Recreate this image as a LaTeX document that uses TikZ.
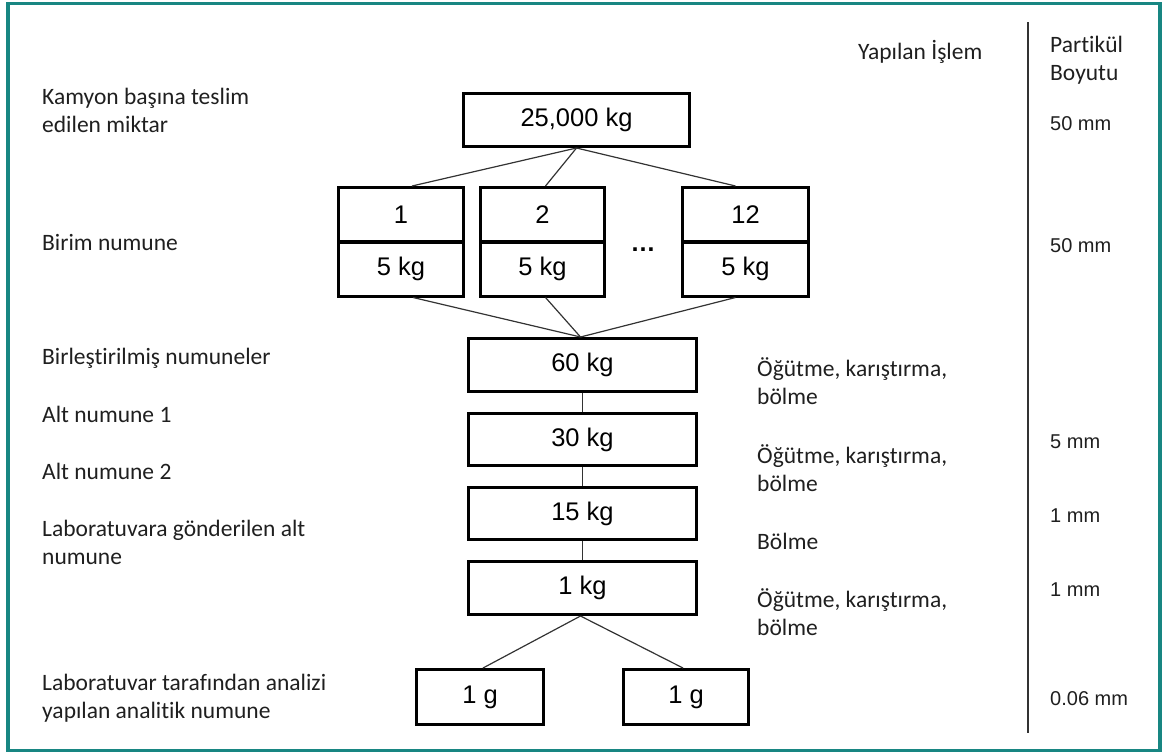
\documentclass[tikz,border=0pt]{standalone}
\usepackage{fontspec}
\setmainfont{Carlito}[Ligatures={NoCommon,NoContextual}]
\newfontfamily\arialf{Liberation Sans}
\usetikzlibrary{calc}
\definecolor{frameteal}{RGB}{24,134,130}
\begin{document}
\begin{tikzpicture}[x=1pt,y=-1pt,
  box/.style={draw=black, line width=3pt, fill=white, inner sep=0pt, text=black,
    font=\arialf\fontsize{25.5}{30}\selectfont},
  lbl/.style={anchor=base west, align=left, inner sep=0pt, text=black!88,
    font=\fontsize{23.5}{27.5}\selectfont},
  mmtxt/.style={anchor=base west, inner sep=0pt, text=black!88,
    font=\arialf\fontsize{20}{24}\selectfont},
  conn/.style={draw=black!80, line width=1.2pt}]
\useasboundingbox (0,0) rectangle (1164,753);
\draw[frameteal, line width=3.5pt] (8,3.5) rectangle (1160,750.5);

% boxes
\node[box, minimum width=226pt, minimum height=53pt] (top) at (576.5,120) {25,000 kg};
\node[box, minimum width=125pt, minimum height=54pt] (b1t) at (401,214.5) {1};
\node[box, minimum width=125pt, minimum height=54pt] (b1b) at (401,269) {5 kg};
\node[box, minimum width=124pt, minimum height=54pt] (b2t) at (542.5,214.5) {2};
\node[box, minimum width=124pt, minimum height=54pt] (b2b) at (542.5,269) {5 kg};
\node[box, minimum width=126pt, minimum height=54pt] (b12t) at (745.5,214.5) {12};
\node[box, minimum width=126pt, minimum height=54pt] (b12b) at (745.5,269) {5 kg};
\node[inner sep=0pt, font=\arialf\bfseries\fontsize{25}{30}\selectfont] (dots) at (643,250) {…};
\node[box, minimum width=228pt, minimum height=53pt] (m60) at (582.5,365) {60 kg};
\node[box, minimum width=228pt, minimum height=52pt] (m30) at (582.5,439.5) {30 kg};
\node[box, minimum width=228pt, minimum height=52pt] (m15) at (582.5,513.5) {15 kg};
\node[box, minimum width=228pt, minimum height=53pt] (m1) at (582.5,588) {1 kg};
\node[box, minimum width=127pt, minimum height=55pt] (g1) at (480,697) {1 g};
\node[box, minimum width=125pt, minimum height=55pt] (g2) at (686,697) {1 g};

% connectors
\draw[conn] (top.south) -- ($(b1t.north)+(11,0)$);
\draw[conn] (top.south) -- ($(b2t.north)+(3,0)$);
\draw[conn] (top.south) -- ($(b12t.north)+(-10,0)$);
\draw[conn] ($(b1b.south)+(12,0)$) -- ($(m60.north)+(-2,0)$);
\draw[conn] ($(b2b.south)+(3,0)$) -- ($(m60.north)+(-2,0)$);
\draw[conn] ($(b12b.south)+(-10,0)$) -- ($(m60.north)+(-2,0)$);
\draw[conn] (m60.south) -- (m30.north);
\draw[conn] (m30.south) -- (m15.north);
\draw[conn] (m15.south) -- (m1.north);
\draw[conn] ($(m1.south)+(-2,0)$) -- ($(g1.north)+(3,0)$);
\draw[conn] ($(m1.south)+(-2,0)$) -- ($(g2.north)+(-3,0)$);

% separator
\coordinate (sepT) at (1028,22);
\coordinate (sepB) at (1028,733);
\draw[black!80, line width=2pt] (sepT) -- (sepB);

% left labels (base = last line)
\node[lbl] (l1) at (42,132) {Kamyon başına teslim\\edilen miktar};
\node[lbl] (l2) at (42,250) {Birim numune};
\node[lbl] (l3) at (42,364) {Birleştirilmiş numuneler};
\node[lbl] (l4) at (42,422) {Alt numune 1};
\node[lbl] (l5) at (42,479) {Alt numune 2};
\node[lbl] (l6) at (42,564) {Laboratuvara gönderilen alt\\numune};
\node[lbl] (l7) at (42,718) {Laboratuvar tarafından analizi\\yapılan analitik numune};

% process labels
\node[lbl] (h1) at (858,59) {Yapılan İşlem};
\node[lbl] (p1) at (757,404) {Öğütme, karıştırma,\\bölme};
\node[lbl] (p2) at (757,491) {Öğütme, karıştırma,\\bölme};
\node[lbl] (p3) at (757,549) {Bölme};
\node[lbl] (p4) at (757,635) {Öğütme, karıştırma,\\bölme};

% particle size
\node[lbl] (h2) at (1050,80) {Partikül\\Boyutu};
\node[mmtxt] (s1) at (1050,130) {50 mm};
\node[mmtxt] (s2) at (1050,252) {50 mm};
\node[mmtxt] (s3) at (1050,448) {5 mm};
\node[mmtxt] (s4) at (1050,522) {1 mm};
\node[mmtxt] (s5) at (1050,596) {1 mm};
\node[mmtxt] (s6) at (1050,705) {0.06 mm};
\end{tikzpicture}
\end{document}
